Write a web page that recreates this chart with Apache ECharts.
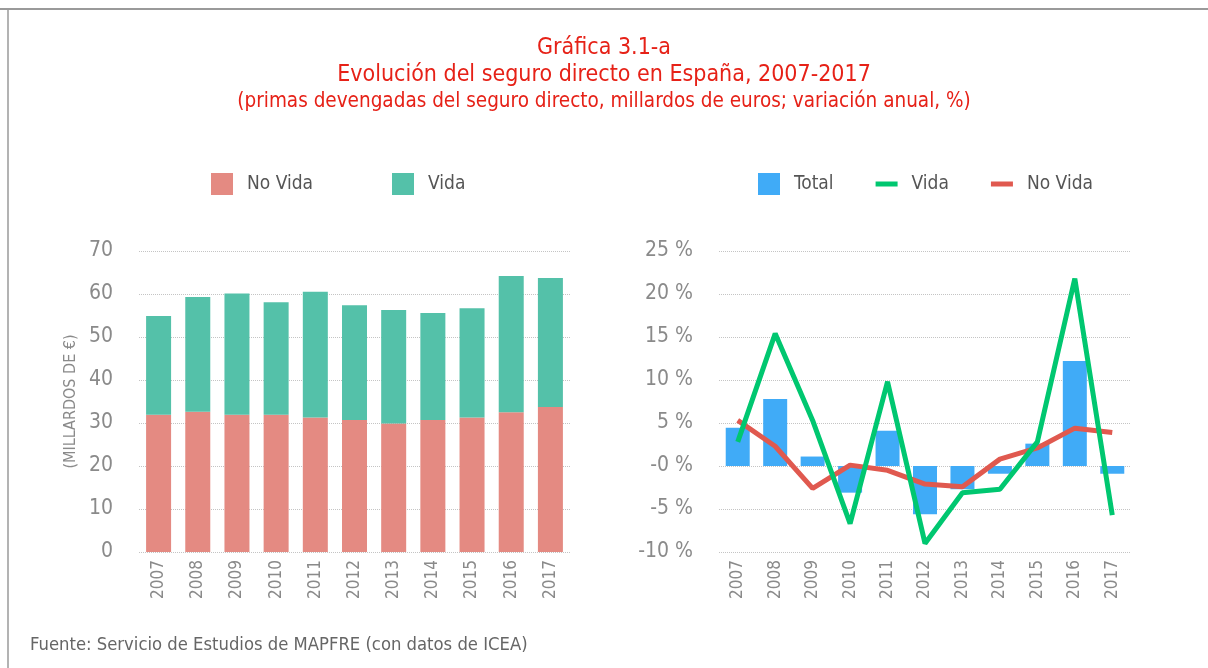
<!DOCTYPE html>
<html>
<head>
<meta charset="utf-8">
<script src="https://cdn.jsdelivr.net/npm/echarts@6/dist/echarts.min.js"></script>
<style>
  html, body { margin: 0; padding: 0; background: #fff; }
  #chart { width: 1208px; height: 668px; }
</style>
</head>
<body>
<div id="chart"></div>
<script>
var years = ["2007","2008","2009","2010","2011","2012","2013","2014","2015","2016","2017"];

// primas, millardos de euros
var primasNoVida = [31.9, 32.6, 31.9, 31.9, 31.3, 30.7, 29.9, 30.7, 31.3, 32.5, 33.7];
var primasVida   = [23.0, 26.7, 28.2, 26.2, 29.2, 26.7, 26.4, 24.9, 25.4, 31.7, 30.0];

// variación anual, %
var varTotal  = [4.45, 7.8, 1.1, -3.1, 4.1, -5.6, -2.7, -0.9, 2.6, 12.2, -0.9];
var varVida   = [2.8, 15.4, 5.3, -6.7, 9.8, -9.0, -3.1, -2.7, 2.8, 21.8, -5.7];
var varNoVida = [5.3, 2.3, -2.6, 0.1, -0.5, -2.1, -2.4, 0.8, 2.1, 4.4, 3.9];

var FONT = "'Liberation Sans Narrow', 'DejaVu Sans Condensed', sans-serif";
var RED = '#e62117';
var GREY = '#8a8a8a';
var LINE_ICON = 'path://M0,0L22,0L22,5L0,5Z';

var chart = echarts.init(document.getElementById('chart'));

var splitDotted = { show: true, lineStyle: { type: 'dotted', color: '#c4c4c4', width: 1 } };

var option = {
    animation: false,
    textStyle: { fontFamily: FONT },
    title: [
        { text: 'Gráfica 3.1-a', left: 'center', top: 32,
          textStyle: { color: RED, fontSize: 23, fontWeight: 'normal', fontFamily: FONT } },
        { text: 'Evolución del seguro directo en España, 2007-2017', left: 'center', top: 59,
          textStyle: { color: RED, fontSize: 23, fontWeight: 'normal', fontFamily: FONT } },
        { text: '(primas devengadas del seguro directo, millardos de euros; variación anual, %)', left: 'center', top: 86,
          textStyle: { color: RED, fontSize: 20.5, fontWeight: 'normal', fontFamily: FONT } },
        { text: 'Fuente: Servicio de Estudios de MAPFRE (con datos de ICEA)', left: 25, top: 631,
          textStyle: { color: '#666', fontSize: 18.3, fontWeight: 'normal', fontFamily: FONT } }
    ],
    legend: [
        { left: 206, top: 168, itemWidth: 22, itemHeight: 22, itemGap: 79, icon: 'rect',
          data: ['No Vida', 'Vida'],
          textStyle: { color: '#555', fontSize: 19, padding: [0, 0, 0, 9] } },
        { left: 753, top: 168, itemWidth: 22, itemHeight: 22, itemGap: 42,
          data: [{ name: 'Total', icon: 'rect' },
                 { name: 'Vida ', icon: LINE_ICON },
                 { name: 'No Vida ', icon: LINE_ICON }],
          formatter: function (n) { return n.trim(); },
          textStyle: { color: '#555', fontSize: 19, padding: [0, 0, 0, 9] } }
    ],
    grid: [
        { left: 139, right: 638, top: 251, bottom: 116 },
        { left: 719, right: 77, top: 251, bottom: 116 }
    ],
    xAxis: [
        { type: 'category', gridIndex: 0, data: years,
          axisLine: { show: false }, axisTick: { show: false },
          axisLabel: { rotate: 90, color: GREY, fontSize: 17, margin: 8 } },
        { type: 'category', gridIndex: 1, data: years,
          axisLine: { show: false }, axisTick: { show: false },
          axisLabel: { rotate: 90, color: GREY, fontSize: 17, margin: 8 } }
    ],
    yAxis: [
        { type: 'value', gridIndex: 0, min: 0, max: 70, interval: 10,
          name: '(MILLARDOS DE €)', nameLocation: 'middle', nameGap: 60,
          nameTextStyle: { color: GREY, fontSize: 16 },
          axisLine: { show: false }, axisTick: { show: false },
          axisLabel: { color: GREY, fontSize: 21, margin: 26 },
          splitLine: splitDotted },
        { type: 'value', gridIndex: 1, min: -10, max: 25, interval: 5,
          axisLine: { show: false }, axisTick: { show: false },
          axisLabel: { color: GREY, fontSize: 21, margin: 26,
                       formatter: function (v) { return (v === 0 ? '-0' : v) + ' %'; } },
          splitLine: splitDotted }
    ],
    series: [
        { name: 'No Vida', type: 'bar', stack: 'primas', xAxisIndex: 0, yAxisIndex: 0,
          barWidth: 25, data: primasNoVida, itemStyle: { color: '#e48a82' } },
        { name: 'Vida', type: 'bar', stack: 'primas', xAxisIndex: 0, yAxisIndex: 0,
          barWidth: 25, data: primasVida, itemStyle: { color: '#54c1a9' } },
        { name: 'Total', type: 'bar', xAxisIndex: 1, yAxisIndex: 1,
          barWidth: 24, data: varTotal, itemStyle: { color: '#40abf7' } },
        { name: 'No Vida ', type: 'line', xAxisIndex: 1, yAxisIndex: 1,
          symbol: 'none', data: varNoVida,
          lineStyle: { color: '#e0594f', width: 5 }, itemStyle: { color: '#e0594f' } },
        { name: 'Vida ', type: 'line', xAxisIndex: 1, yAxisIndex: 1,
          symbol: 'none', data: varVida,
          lineStyle: { color: '#00c770', width: 5 }, itemStyle: { color: '#00c770' } }
    ],
    graphic: [
        { type: 'line', shape: { x1: 0, y1: 9, x2: 1208, y2: 9 },
          style: { stroke: '#9a9a9a', lineWidth: 2 } },
        { type: 'line', shape: { x1: 8, y1: 9, x2: 8, y2: 668 },
          style: { stroke: '#9a9a9a', lineWidth: 1.5 } }
    ]
};

chart.setOption(option);
</script>
</body>
</html>
